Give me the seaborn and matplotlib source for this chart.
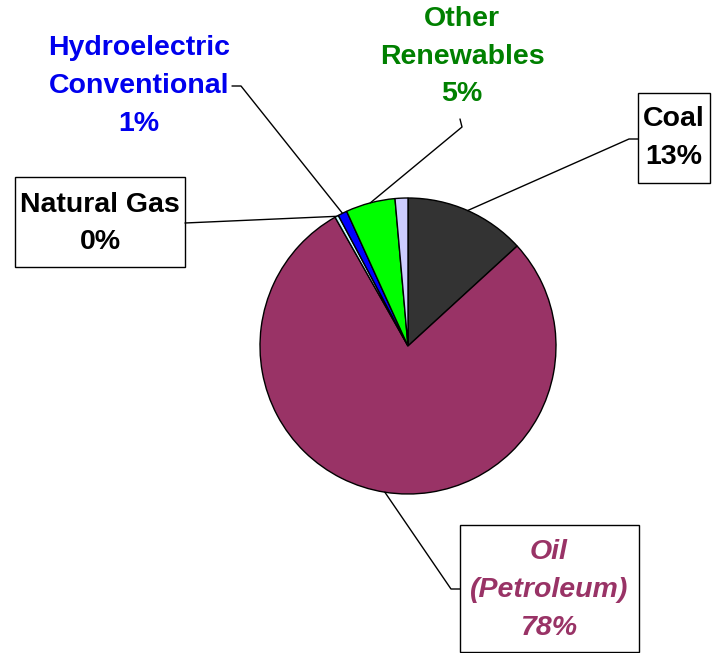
import numpy as np
import matplotlib
matplotlib.use("Agg")
import matplotlib.pyplot as plt
from matplotlib.patches import Rectangle
import seaborn as sns

sns.set_theme(style="white")
plt.rcParams['font.family'] = ['Liberation Sans', 'DejaVu Sans']

# data (percent shares), clockwise from 12 o'clock
sources = ["Coal", "Oil (Petroleum)", "Natural Gas", "Hydroelectric Conventional",
           "Other Renewables", "Other"]
shares = [13.2, 78.6, 0.4, 1.0, 5.4, 1.4]
labels = ["13%", "78%", "0%", "1%", "5%", ""]
colors = ["#333333", "#993366", "#CCFFFF", "#0000FF", "#00FF00", "#CCCCFF"]

W, H = 713, 653
fig = plt.figure(figsize=(W / 100, H / 100), dpi=100)
ax = fig.add_axes([0, 0, 1, 1])
ax.set_xlim(0, W)
ax.set_ylim(0, H)
ax.set_aspect('equal')
ax.axis('off')

def fy(y):
    return H - y

cx, cy, R = 408, fy(346), 148
wedges, _ = ax.pie(shares, colors=colors, startangle=90, counterclock=False,
                   center=(cx, cy), radius=R, frame=True,
                   wedgeprops=dict(edgecolor='black', linewidth=1))
ax.set_xlim(0, W)
ax.set_ylim(0, H)
ax.axis('off')

def edge_point(w, k=1.0):
    ang = np.deg2rad((w.theta1 + w.theta2) / 2)
    return w.center[0] + k * w.r * np.cos(ang), w.center[1] + k * w.r * np.sin(ang)

fs = 20.5
ls = 1.58
lk = dict(color='black', lw=1)

# Coal
ax.add_patch(Rectangle((638, fy(183)), 72, 90, fill=False, ec='black', lw=1))
ax.text(674, fy(138), "Coal\n13%", ha='center', va='center', fontsize=fs,
        fontweight='bold', color='black', linespacing=ls)
px, py = edge_point(wedges[0])
ax.plot([638, 629, px], [fy(139), fy(139), py], **lk)

# Oil
ax.add_patch(Rectangle((460, fy(652)), 179, 127, fill=False, ec='black', lw=1))
ax.text(549, fy(590), "Oil\n(Petroleum)\n78%", ha='center', va='center', fontsize=fs,
        fontweight='bold', fontstyle='italic', color="#993366", linespacing=ls)
px, py = edge_point(wedges[1])
ax.plot([460, 451, px], [fy(589), fy(589), py], **lk)

# Natural Gas
ax.add_patch(Rectangle((15, fy(267)), 170, 90, fill=False, ec='black', lw=1))
ax.text(100, fy(223.5), "Natural Gas\n0%", ha='center', va='center', fontsize=fs,
        fontweight='bold', color='black', linespacing=ls)
px, py = edge_point(wedges[2])
ax.plot([185, px], [fy(223), py], **lk)

# Hydroelectric
ax.text(139, fy(86), "Hydroelectric\nConventional\n1%", ha='center', va='center',
        fontsize=fs, fontweight='bold', color="#0000EE", linespacing=ls)
px, py = edge_point(wedges[3])
ax.plot([232, 241, px], [fy(86), fy(86), py], **lk)

# Other renewables
ax.text(462, fy(56.5), "Other\nRenewables\n5%", ha='center', va='center',
        fontsize=fs, fontweight='bold', color="#008000", linespacing=ls)
px, py = edge_point(wedges[4])
ax.plot([460, 462, px], [fy(119), fy(127), py], **lk)

fig.savefig("out.png", dpi=100)
